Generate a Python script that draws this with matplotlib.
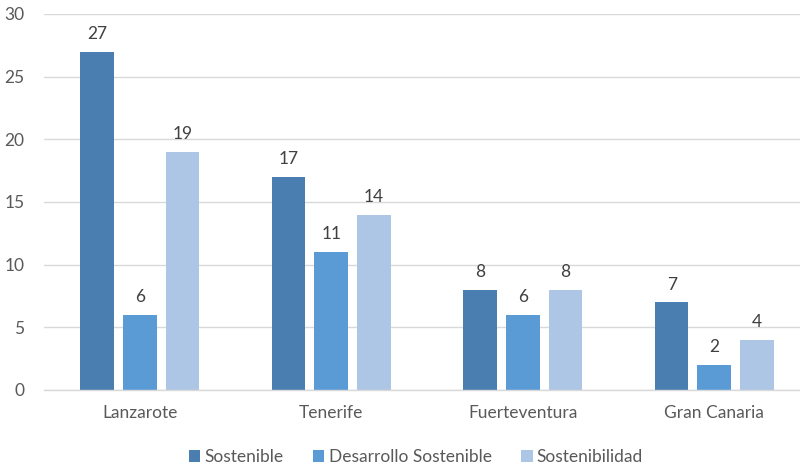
import matplotlib
matplotlib.use("Agg")
import matplotlib.pyplot as plt
import numpy as np

categories = ["Lanzarote", "Tenerife", "Fuerteventura", "Gran Canaria"]
series_names = ["Sostenible", "Desarrollo Sostenible", "Sostenibilidad"]
sostenible = [27, 17, 8, 7]
desarrollo_sostenible = [6, 11, 6, 2]
sostenibilidad = [19, 14, 8, 4]
y_ticks = [0, 5, 10, 15, 20, 25, 30]

colors = ["#4a7eb0", "#5b9bd5", "#adc6e5"]
text_color = "#595959"
plt.rcParams["font.family"] = ["Lato", "DejaVu Sans"]
fs = 12.5

fig = plt.figure(figsize=(8.0, 4.68), dpi=100)
ax = fig.add_axes([44 / 800, 1 - 390 / 468, 766 / 800, 376 / 468])

x = np.arange(len(categories))
step = 0.222
width = 0.175
all_series = [sostenible, desarrollo_sostenible, sostenibilidad]
for i, (vals, name, col) in enumerate(zip(all_series, series_names, colors)):
    pos = x + (i - 1) * step
    ax.bar(pos, vals, width=width, color=col, label=name, zorder=3)
    for p, v in zip(pos, vals):
        ax.annotate(str(v), (p, v), xytext=(0, 7), textcoords="offset points",
                    ha="center", va="bottom", fontsize=fs, color="#404040")

ax.set_xlim(-0.5, 3.5)
ax.set_ylim(0, 30)
ax.set_yticks(y_ticks)
ax.set_xticks(x)
ax.set_xticklabels(categories)
ax.tick_params(axis="both", length=0, labelsize=fs, colors=text_color)
ax.tick_params(axis="x", pad=11)
ax.tick_params(axis="y", pad=14)
ax.grid(axis="y", color="#d9d9d9", linewidth=1, zorder=0)
for s in ["top", "right", "left"]:
    ax.spines[s].set_visible(False)
ax.spines["bottom"].set_color("#d9d9d9")
ax.spines["bottom"].set_linewidth(1)
ax.spines["bottom"].set_zorder(4)

leg = fig.legend(loc="center", bbox_to_anchor=(416 / 800, 1 - 457 / 468), ncol=3,
                 frameon=False, fontsize=fs, handlelength=0.65, handleheight=0.65,
                 handletextpad=0.25, columnspacing=1.7)
for t in leg.get_texts():
    t.set_color(text_color)

fig.savefig("out.png", dpi=100)
